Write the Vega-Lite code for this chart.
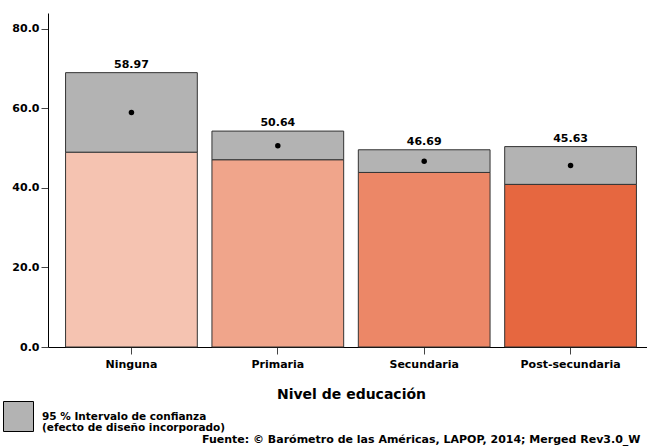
{
  "$schema": "https://vega.github.io/schema/vega-lite/v6.json",
  "autosize": {"type": "none"},
  "width": 606,
  "height": 334,
  "padding": {"left": 48, "top": 13, "right": 0, "bottom": 100},
  "background": "white",
  "config": {
    "font": "DejaVu Sans",
    "view": {"stroke": null},
    "style": {"guide-label": {"lineHeight": 11}}
  },
  "title": {
    "text": "Fuente: © Barómetro de las Américas, LAPOP, 2014; Merged Rev3.0_W",
    "orient": "bottom",
    "anchor": "start",
    "frame": "group",
    "dx": 154,
    "offset": 0,
    "fontSize": 11,
    "fontWeight": "bold",
    "font": "DejaVu Sans",
    "color": "black"
  },
  "data": {
    "values": [
      {"nivel": "Ninguna", "media": 58.97, "inferior": 49.0, "superior": 69.0, "ic": "95 % Intervalo de confianza\n(efecto de diseño incorporado)"},
      {"nivel": "Primaria", "media": 50.64, "inferior": 47.1, "superior": 54.3, "ic": "95 % Intervalo de confianza\n(efecto de diseño incorporado)"},
      {"nivel": "Secundaria", "media": 46.69, "inferior": 43.9, "superior": 49.6, "ic": "95 % Intervalo de confianza\n(efecto de diseño incorporado)"},
      {"nivel": "Post-secundaria", "media": 45.63, "inferior": 40.9, "superior": 50.4, "ic": "95 % Intervalo de confianza\n(efecto de diseño incorporado)"}
    ]
  },
  "encoding": {
    "x": {
      "field": "nivel",
      "type": "nominal",
      "sort": null,
      "scale": {"paddingInner": 0.1, "paddingOuter": 0.12},
      "axis": {
        "title": "Nivel de educación",
        "titleFontSize": 14,
        "titleFontWeight": "bold",
        "titleColor": "black",
        "titlePadding": 18,
        "labelAngle": 0,
        "labelFontSize": 11,
        "labelFontWeight": "bold",
        "labelColor": "black",
        "labelPadding": 4,
        "tickSize": 7,
        "tickColor": "#444",
        "domainColor": "black",
        "grid": false
      }
    }
  },
  "layer": [
    {
      "mark": {"type": "bar", "stroke": "#333", "strokeWidth": 1},
      "encoding": {
        "y": {
          "field": "inferior",
          "type": "quantitative",
          "scale": {"domain": [0, 84], "nice": false},
          "axis": {
            "title": null,
            "values": [0, 20, 40, 60, 80],
            "format": ".1f",
            "labelFontSize": 11,
            "labelFontWeight": "bold",
            "labelColor": "black",
            "labelPadding": 2,
            "tickSize": 7,
            "tickColor": "#444",
            "domainColor": "black",
            "grid": false
          }
        },
        "y2": {"datum": 0},
        "color": {
          "field": "nivel",
          "type": "nominal",
          "scale": {
            "domain": ["Ninguna", "Primaria", "Secundaria", "Post-secundaria"],
            "range": ["#F5C3B1", "#F0A58B", "#EC8767", "#E66740"]
          },
          "legend": null
        }
      }
    },
    {
      "mark": {"type": "bar", "stroke": "#333", "strokeWidth": 1},
      "encoding": {
        "y": {"field": "superior", "type": "quantitative"},
        "y2": {"field": "inferior"},
        "fill": {
          "field": "ic",
          "type": "nominal",
          "scale": {"range": ["#B3B3B3"]},
          "legend": {
            "title": null,
            "orient": "none",
            "legendX": -45,
            "legendY": 388,
            "symbolType": "square",
            "symbolSize": 900,
            "symbolStrokeColor": "black",
            "symbolStrokeWidth": 1,
            "symbolFillColor": "#B3B3B3",
            "labelFontSize": 10.5,
            "labelFontWeight": "bold",
            "labelColor": "black",
            "labelLimit": 400,
            "labelOffset": 8,
            "labelExpr": "split(datum.label, '\\n')"
          }
        }
      }
    },
    {
      "mark": {"type": "point", "filled": true, "color": "black", "size": 30, "opacity": 1},
      "encoding": {
        "y": {"field": "media", "type": "quantitative"}
      }
    },
    {
      "mark": {"type": "text", "dy": -5, "baseline": "alphabetic", "fontSize": 11, "fontWeight": "bold", "color": "black"},
      "encoding": {
        "y": {"field": "superior", "type": "quantitative"},
        "text": {"field": "media", "type": "quantitative", "format": ".2f"}
      }
    }
  ]
}
